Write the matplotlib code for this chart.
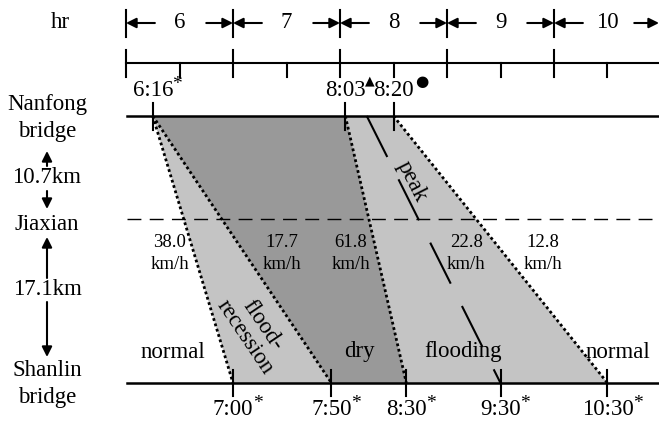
import matplotlib
matplotlib.use("Agg")
import matplotlib.pyplot as plt

plt.rcParams['font.family'] = ['Liberation Serif', 'DejaVu Sans']

# ---------------- data ----------------
hours = [6, 7, 8, 9, 10]
hour_labels = ["6", "7", "8", "9", "10"]
station_names = ["Nanfong\nbridge", "Jiaxian", "Shanlin\nbridge"]
station_km = [0.0, 10.7, 27.8]
segment_labels = ["10.7km", "17.1km"]

# times at Nanfong bridge (position on the time axis, in hours) and labels
nanfong_pos = [6.25, 8.05, 8.50]
nanfong_labels = ["6:16", "8:03", "8:20"]
nanfong_marks = ["*", "\u25B2", "\u25CF"]

# times at Shanlin bridge
shanlin_pos = [7.00, 7.92, 8.62, 9.50, 10.50]
shanlin_labels = ["7:00", "7:50", "8:30", "9:30", "10:30"]

# flood peak start at Nanfong (hours) and end at Shanlin
peak_start = 8.25
peak_end = 9.50

speeds = ["38.0", "17.7", "61.8", "22.8", "12.8"]
speed_x = [6.41, 7.46, 8.10, 9.18, 9.90]
states = ["normal", "dry", "flooding", "normal"]
state_x = [6.44, 8.18, 9.15, 10.60]

# ---------------- layout ----------------
W, H = 659, 421
fig = plt.figure(figsize=(W / 100, H / 100), dpi=100)
ax = fig.add_axes([0, 0, 1, 1])
x0_px, px_per_h = 126, 107
y_top_px, y_bot_px = 116, 383
km_per_px = station_km[-1] / (y_bot_px - y_top_px)


def hx(px):
    return 6 + (px - x0_px) / px_per_h


def ky(py):
    return (py - y_top_px) * km_per_px


ax.set_xlim(hx(0), hx(W))
ax.set_ylim(ky(H), ky(0))
ax.axis('off')

fs_big = 16.5
fs_small = 13.5
dark = '#999999'
light = '#c4c4c4'

# shaded regions
ax.fill([nanfong_pos[0], nanfong_pos[2], shanlin_pos[4], shanlin_pos[0]],
        [station_km[0], station_km[0], station_km[2], station_km[2]],
        color=light, lw=0, zorder=1)
ax.fill([nanfong_pos[0], nanfong_pos[1], shanlin_pos[2], shanlin_pos[1]],
        [station_km[0], station_km[0], station_km[2], station_km[2]],
        color=dark, lw=0, zorder=2)

# dotted lines
dot_kw = dict(color='black', lw=2.0, linestyle=(0, (1, 1)), zorder=4)
for a, b in [(nanfong_pos[0], shanlin_pos[0]), (nanfong_pos[0], shanlin_pos[1]),
             (nanfong_pos[1], shanlin_pos[2]), (nanfong_pos[2], shanlin_pos[4])]:
    ax.plot([a, b], [station_km[0], station_km[2]], **dot_kw)

# peak line
ax.plot([peak_start, peak_end], [station_km[0], station_km[2]], color='black',
        lw=1.5, linestyle=(0, (22, 12)), zorder=4)

# station lines
xl = ax.get_xlim()
line_left = hx(127)
ax.plot([line_left, xl[1]], [station_km[0]] * 2, color='black', lw=1.8, zorder=5)
ax.plot([line_left, xl[1]], [station_km[2]] * 2, color='black', lw=1.8, zorder=5)
ax.plot([line_left, xl[1]], [station_km[1]] * 2, color='black', lw=1.0,
        linestyle=(0, (10, 6)), zorder=5)

# ticks on station lines
for p in nanfong_pos:
    ax.plot([p, p], [ky(103), ky(130)], color='black', lw=1.5, zorder=6)
for p in shanlin_pos:
    ax.plot([p, p], [ky(370), ky(396)], color='black', lw=1.5, zorder=6)

# labels at Nanfong / Shanlin (marks placed after measuring the text)
marked = []
for p, lab, mk in zip(nanfong_pos, nanfong_labels, nanfong_marks):
    t = ax.text(p, ky(91), lab, ha='center', va='center', fontsize=fs_big, zorder=7)
    marked.append((t, mk))
for p, lab in zip(shanlin_pos, shanlin_labels):
    t = ax.text(p, ky(410), lab, ha='center', va='center', fontsize=fs_big, zorder=7)
    marked.append((t, "*"))

fig.canvas.draw()
renderer = fig.canvas.get_renderer()
inv = ax.transData.inverted()
mark_size = {"*": 14, "\u25B2": 9, "\u25CF": 11}
mark_fam = {"*": ['Liberation Serif'], "\u25B2": ['DejaVu Sans'], "\u25CF": ['DejaVu Sans']}
mark_fy = {"*": 0.8, "\u25B2": 1.0, "\u25CF": 0.95}
mark_dx = {"*": -0.5, "\u25B2": -0.5, "\u25CF": 1.5}
for t, mk in marked:
    bb = t.get_window_extent(renderer)
    mx, my = inv.transform((bb.x1 + mark_dx[mk], bb.y0 + mark_fy[mk] * bb.height))
    ax.text(mx, my, mk, ha='left', va='center', fontsize=mark_size[mk],
            family=mark_fam[mk], zorder=7)

# speed labels
for x, s in zip(speed_x, speeds):
    ax.text(x, ky(243), s, ha='center', va='center', fontsize=fs_small, zorder=7)
    ax.text(x, ky(265), "km/h", ha='center', va='center', fontsize=fs_small, zorder=7)

# state labels
for x, s in zip(state_x, states):
    ax.text(x, ky(352), s, ha='center', va='center', fontsize=fs_big, zorder=7)

ax.text(hx(254), ky(331), "flood-\nrecession", ha='center', va='center',
        rotation=-56, rotation_mode='anchor', fontsize=fs_big, linespacing=1.0, zorder=7)
ax.text(hx(412), ky(182), "peak", ha='center', va='center',
        rotation=-63, rotation_mode='anchor', fontsize=fs_big, zorder=7)

# top time axis
ax.text(hx(60), ky(23), "hr", ha='center', va='center', fontsize=fs_big)
ax.plot([hx(126), xl[1]], [ky(63), ky(63)], color='black', lw=1.5)
arrow_kw = dict(arrowstyle='-|>', color='black', lw=1.5, mutation_scale=15,
                shrinkA=0, shrinkB=0)
for h, lab in zip(hours, hour_labels):
    ax.plot([h, h], [ky(50), ky(77)], color='black', lw=1.5)
    ax.plot([h + 0.5, h + 0.5], [ky(63), ky(77)], color='black', lw=1.5)
    ax.plot([h, h], [ky(10), ky(37)], color='black', lw=1.5)
    ax.text(h + 0.5, ky(23), lab, ha='center', va='center', fontsize=fs_big)
    ax.annotate("", xy=(h, ky(23)), xytext=(h + 0.27, ky(23)),
                arrowprops=arrow_kw, annotation_clip=False)
    ax.annotate("", xy=(min(h + 1, xl[1]), ky(23)), xytext=(h + 0.75, ky(23)),
                arrowprops=arrow_kw, annotation_clip=False)

# left station labels and distance arrows
lx = hx(47)
ax.text(lx, ky(118), station_names[0], ha='center', va='center', fontsize=fs_big,
        linespacing=1.4)
ax.text(lx, ky(225), station_names[1], ha='center', va='center', fontsize=fs_big)
ax.text(lx, ky(384), station_names[2], ha='center', va='center', fontsize=fs_big,
        linespacing=1.4)
ax.text(lx, ky(178), segment_labels[0], ha='center', va='center', fontsize=fs_big)
ax.text(lx, ky(290), segment_labels[1], ha='center', va='center', fontsize=fs_big)
for tail, head in [(166, 151), (191, 209), (278, 237), (302, 357)]:
    ax.annotate("", xy=(lx, ky(head)), xytext=(lx, ky(tail)),
                arrowprops=arrow_kw, annotation_clip=False)

fig.savefig("out.png", dpi=100)
